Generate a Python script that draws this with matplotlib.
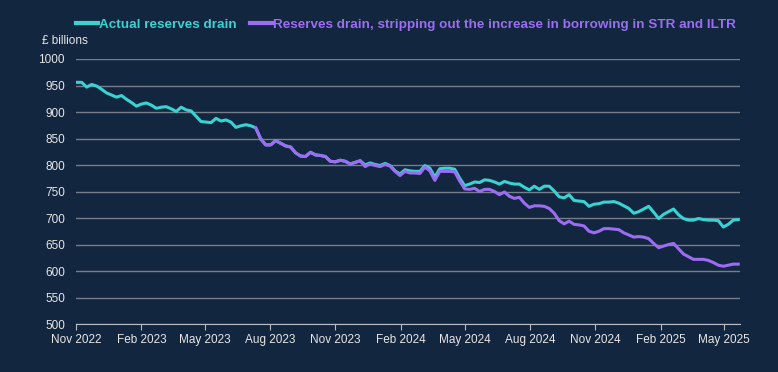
import matplotlib
matplotlib.use("Agg")
import numpy as np
import pandas as pd
import matplotlib.pyplot as plt
import matplotlib.dates as mdates

# weekly readings, £ billions
dates = pd.date_range("2022-11-02", periods=134, freq="7D")

actual = [956, 956, 947, 952, 949, 943, 936, 932, 928, 931,
          924, 918, 911, 915, 917, 913, 907, 909, 910, 906,
          901, 909, 904, 902, 892, 882, 881, 880, 888, 883,
          885, 881, 871, 874,
          876, 874, 870, 849, 838, 838, 846, 841, 836, 834,
          823, 817, 816, 824, 819, 818, 816, 807, 806, 809,
          807, 802, 805, 808, 800, 804, 801, 799, 803, 799,
          789, 783,
          791, 789, 788, 788, 799, 794, 777, 793, 794, 794,
          792, 775, 761, 764, 768, 767, 772, 771, 768, 764,
          769, 766, 764, 764, 758, 753, 760, 754, 760, 760,
          751, 740,
          738, 744, 733, 732, 731, 722, 726, 727, 730, 730,
          731, 728, 723, 718, 709, 712, 717, 722, 711, 699,
          707, 712, 717, 706, 699, 696, 696, 699, 697, 696,
          696, 695, 683, 688, 696, 697]

# adjusted series starts later (index 36)
stripped = [870, 849, 838, 838, 846, 841, 836, 834, 823, 817,
            816, 824, 819, 818, 816, 807, 806, 809, 807, 802,
            805, 808,
            797, 802, 799, 797, 801,
            798, 788, 780, 788, 785, 785, 784, 796, 789, 771,
            788, 788, 788, 787, 770, 755, 754, 756, 750, 754,
            754, 750, 744, 749, 741, 737, 739, 728, 720, 723,
            723, 722, 718, 709, 695,
            689, 694, 688, 687, 685, 675, 672, 675, 680, 680,
            679, 678, 672, 668, 664, 665, 664, 661, 652, 644,
            647, 650, 652, 642, 632, 627, 622, 622, 622, 620,
            616, 611, 609, 611, 613, 613]
stripped_dates = dates[len(dates) - len(stripped):]

bg = "#13263f"
teal = "#38d3d3"
purple = "#9c6cf3"
txt = "#e6e6e6"

plt.rcParams["font.family"] = ["Liberation Sans", "DejaVu Sans"]

fig = plt.figure(figsize=(7.78, 3.72), dpi=100, facecolor=bg)
ax = fig.add_axes([0.0977, 0.129, 0.853, 0.7124], facecolor=bg)

ax.plot(dates, actual, color=teal, lw=2.2, label="Actual reserves drain", zorder=3)
ax.plot(stripped_dates, stripped, color=purple, lw=2.2,
        label="Reserves drain, stripping out the increase in borrowing in STR and ILTR", zorder=4)

ax.set_ylim(500, 1000)
ax.set_yticks(np.arange(500, 1001, 50))
ax.set_xlim(pd.Timestamp("2022-11-01"), pd.Timestamp("2025-05-23"))
ax.xaxis.set_major_locator(mdates.MonthLocator(bymonth=[2, 5, 8, 11]))
ax.xaxis.set_major_formatter(mdates.DateFormatter("%b %Y"))

ax.grid(axis="y", color="#767e8b", lw=1)
ax.set_axisbelow(True)
for s in ["top", "right", "left"]:
    ax.spines[s].set_visible(False)
ax.spines["bottom"].set_color("#b8bcc4")
ax.tick_params(axis="y", length=0, colors=txt, labelsize=8.5, pad=8)
ax.tick_params(axis="x", length=4, color="#b8bcc4", colors=txt, labelsize=8.5, pad=3)

fig.text(0.054, 0.89, "£ billions", color=txt, fontsize=8.5, va="center")

leg = ax.legend(loc="lower left", bbox_to_anchor=(-0.008, 1.085), ncol=2, frameon=False,
                handlelength=1.6, handletextpad=0.1, columnspacing=1.0,
                borderaxespad=0, labelcolor="linecolor",
                prop={"weight": "bold", "size": 9.7})
for h in leg.get_lines():
    h.set_linewidth(3)

fig.savefig("out.png", dpi=100, facecolor=bg)
